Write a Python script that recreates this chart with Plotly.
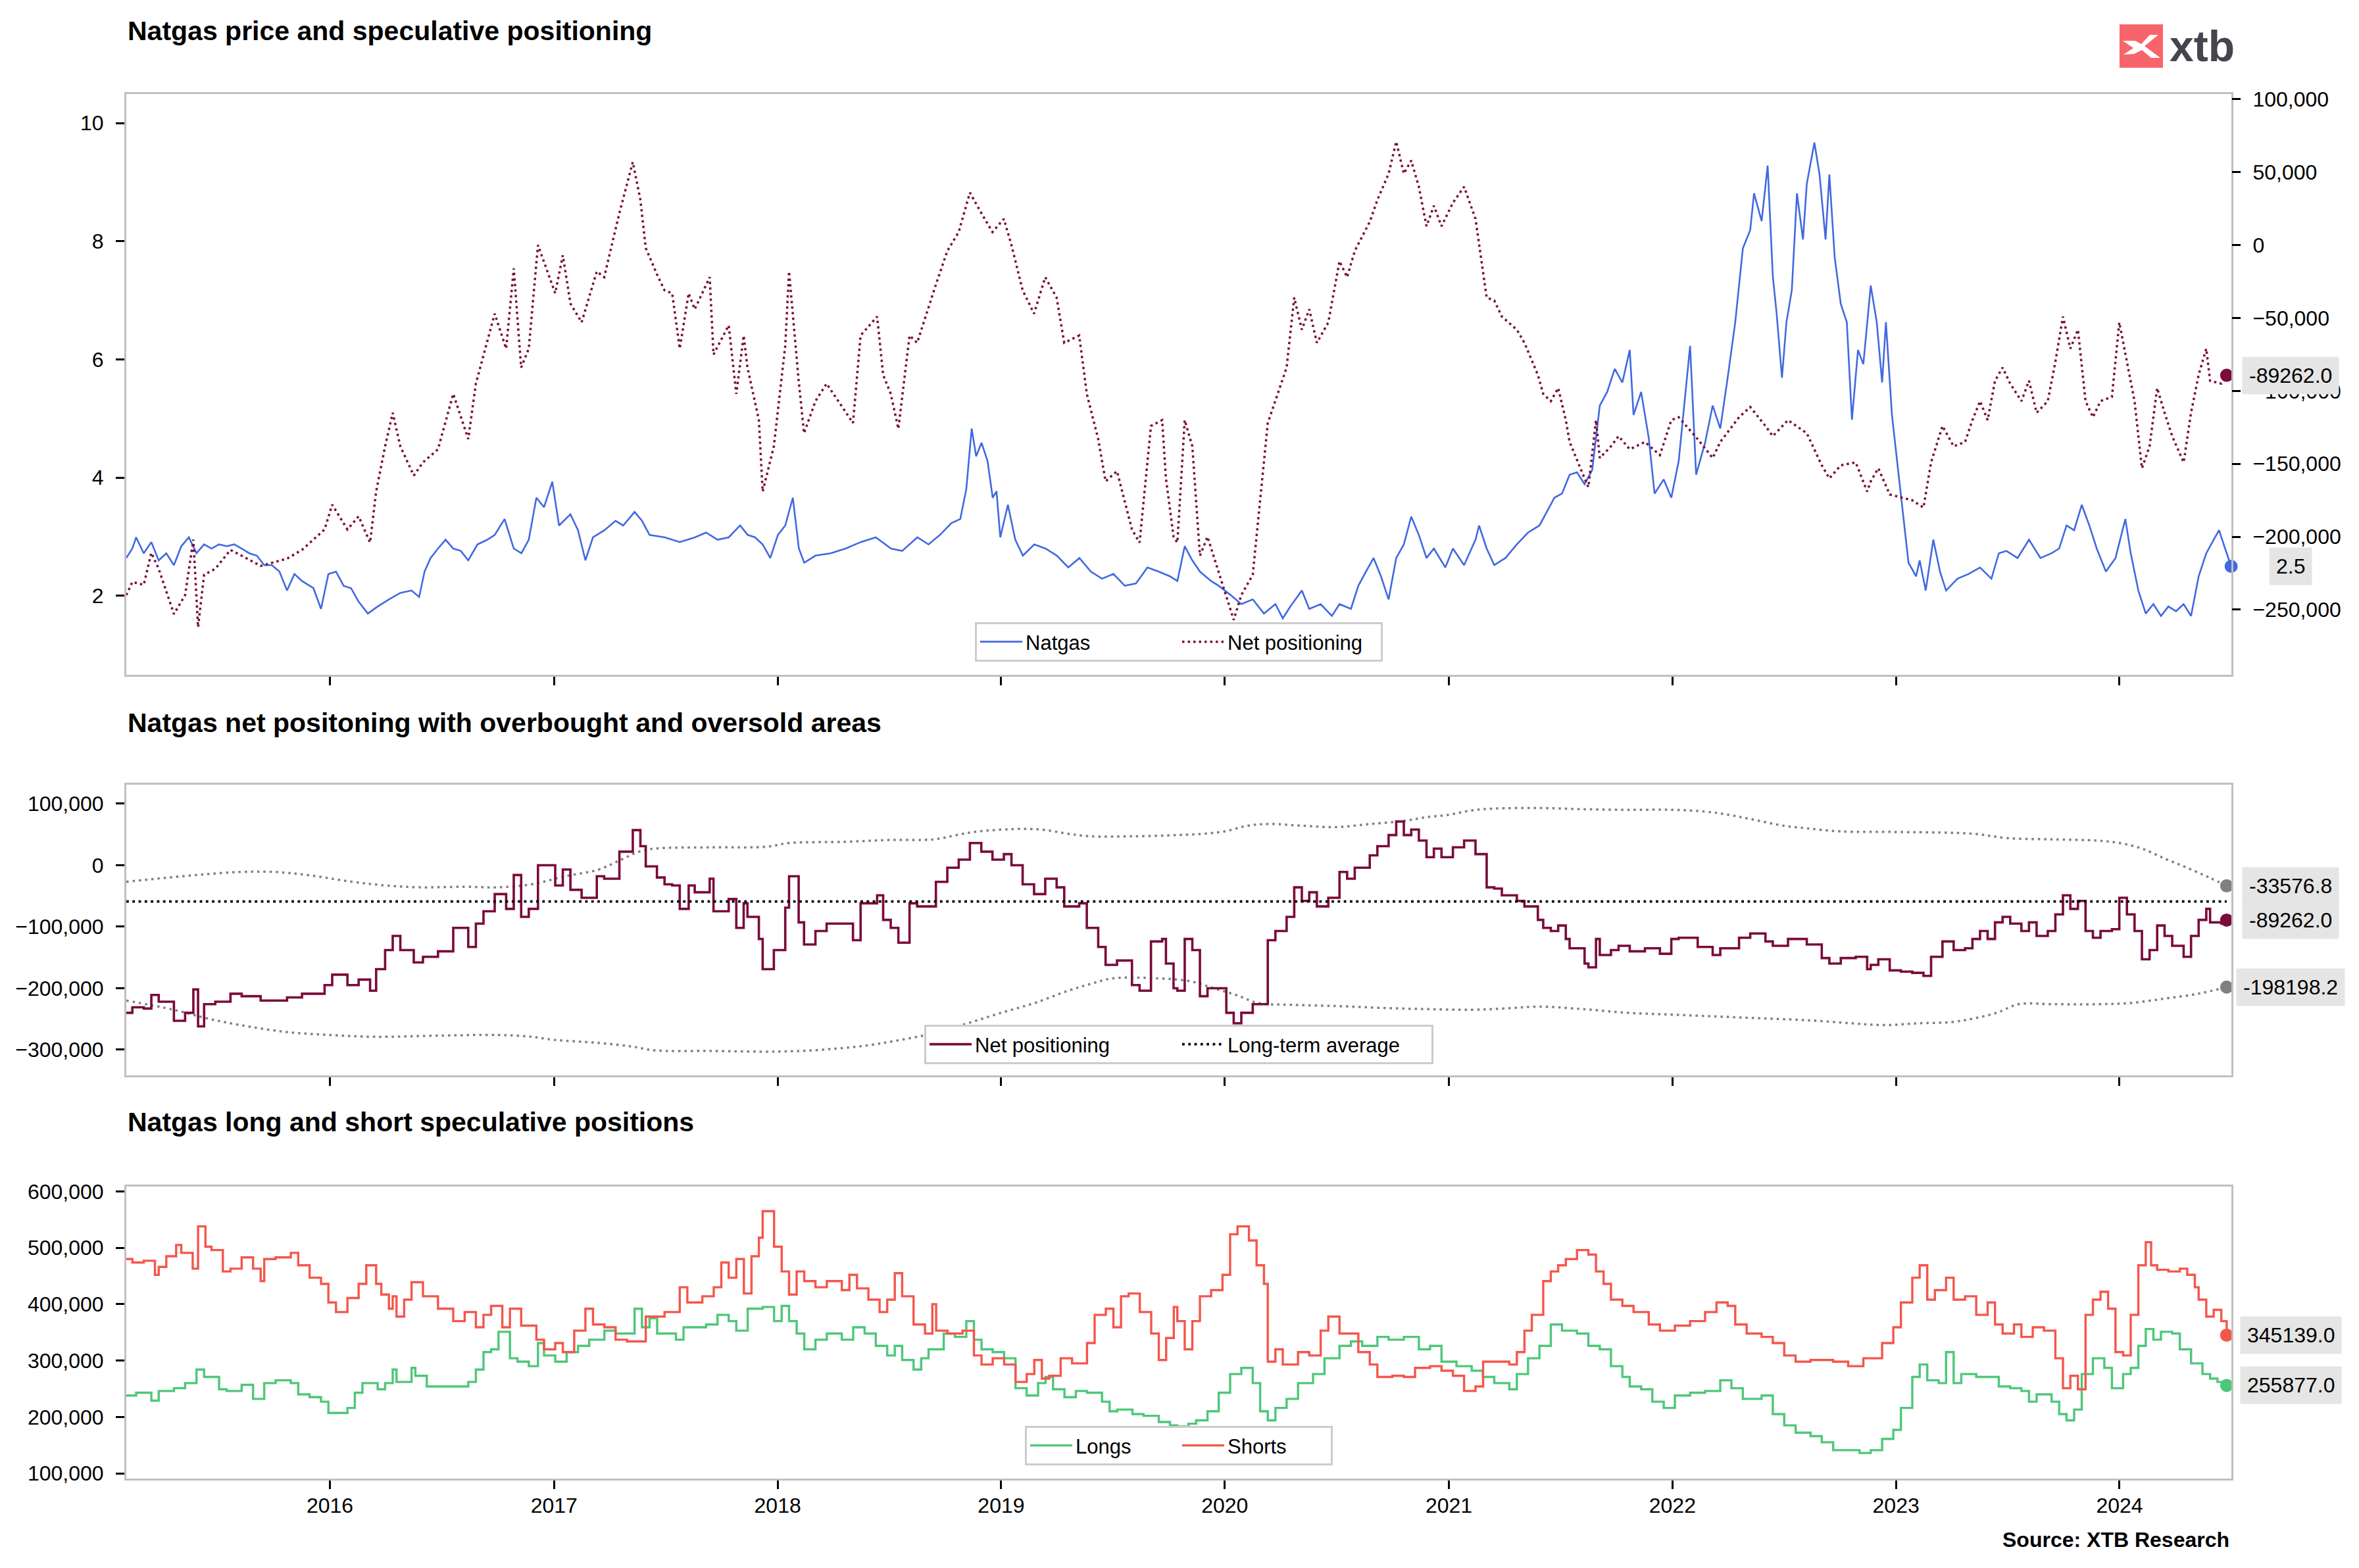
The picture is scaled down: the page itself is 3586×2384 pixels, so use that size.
import plotly.graph_objects as go
from datetime import datetime, timedelta

# ---------------- DATA ----------------
# time stamps are decimal years
GAS_T = [2015.089, 2015.116, 2015.133, 2015.167, 2015.201, 2015.234, 2015.268, 2015.302, 2015.335, 2015.369,
         2015.403, 2015.437, 2015.470, 2015.504, 2015.538, 2015.572, 2015.605, 2015.639, 2015.673, 2015.706,
         2015.740, 2015.774, 2015.808, 2015.841, 2015.875, 2015.926, 2015.960, 2015.993, 2016.027, 2016.061,
         2016.094, 2016.128, 2016.169, 2016.213, 2016.263, 2016.314, 2016.364, 2016.398, 2016.422, 2016.449,
         2016.482, 2016.516, 2016.550, 2016.584, 2016.617, 2016.658, 2016.702, 2016.735, 2016.779, 2016.820,
         2016.854, 2016.887, 2016.921, 2016.955, 2016.992, 2017.022, 2017.073, 2017.107, 2017.140, 2017.174,
         2017.225, 2017.275, 2017.309, 2017.360, 2017.393, 2017.427, 2017.495, 2017.562, 2017.630, 2017.680,
         2017.731, 2017.781, 2017.832, 2017.866, 2017.899, 2017.933, 2017.967, 2018.001, 2018.034, 2018.068,
         2018.095, 2018.119, 2018.169, 2018.237, 2018.304, 2018.372, 2018.439, 2018.507, 2018.557, 2018.625,
         2018.675, 2018.726, 2018.777, 2018.817, 2018.844, 2018.868, 2018.888, 2018.912, 2018.939, 2018.962,
         2018.979, 2018.996, 2019.030, 2019.063, 2019.097, 2019.148, 2019.198, 2019.249, 2019.300, 2019.350,
         2019.401, 2019.451, 2019.502, 2019.553, 2019.603, 2019.654, 2019.704, 2019.755, 2019.788, 2019.821,
         2019.855, 2019.889, 2019.939, 2019.973, 2020.024, 2020.074, 2020.125, 2020.175, 2020.226, 2020.259,
         2020.293, 2020.344, 2020.377, 2020.428, 2020.478, 2020.512, 2020.563, 2020.596, 2020.630, 2020.664,
         2020.697, 2020.731, 2020.765, 2020.799, 2020.832, 2020.866, 2020.900, 2020.933, 2020.984, 2021.018,
         2021.068, 2021.119, 2021.135, 2021.169, 2021.203, 2021.253, 2021.304, 2021.354, 2021.405, 2021.439,
         2021.472, 2021.506, 2021.540, 2021.573, 2021.607, 2021.641, 2021.675, 2021.708, 2021.742, 2021.776,
         2021.809, 2021.826, 2021.860, 2021.894, 2021.920, 2021.961, 2021.995, 2022.028, 2022.079, 2022.106,
         2022.146, 2022.180, 2022.214, 2022.247, 2022.281, 2022.315, 2022.348, 2022.365, 2022.399, 2022.426,
         2022.449, 2022.466, 2022.490, 2022.510, 2022.534, 2022.557, 2022.584, 2022.601, 2022.635, 2022.658,
         2022.685, 2022.702, 2022.726, 2022.753, 2022.780, 2022.803, 2022.830, 2022.854, 2022.887, 2022.914,
         2022.938, 2022.955, 2022.982, 2023.005, 2023.029, 2023.056, 2023.090, 2023.106, 2023.133, 2023.167,
         2023.197, 2023.224, 2023.275, 2023.325, 2023.376, 2023.427, 2023.460, 2023.494, 2023.544, 2023.595,
         2023.646, 2023.696, 2023.730, 2023.763, 2023.797, 2023.831, 2023.865, 2023.898, 2023.939, 2023.982,
         2024.026, 2024.050, 2024.084, 2024.117, 2024.151, 2024.185, 2024.218, 2024.252, 2024.286, 2024.319,
         2024.353, 2024.387, 2024.420, 2024.444, 2024.471, 2024.498]
GAS_V = [2.64, 2.80, 2.99, 2.72, 2.91, 2.60, 2.72, 2.52, 2.84, 2.99,
         2.72, 2.87, 2.80, 2.87, 2.84, 2.87, 2.80, 2.72, 2.68, 2.52,
         2.52, 2.41, 2.09, 2.37, 2.25, 2.13, 1.78, 2.37, 2.41, 2.17,
         2.13, 1.90, 1.70, 1.82, 1.94, 2.05, 2.09, 1.98, 2.41, 2.64,
         2.80, 2.95, 2.80, 2.76, 2.60, 2.87, 2.95, 3.03, 3.30, 2.80,
         2.72, 2.95, 3.66, 3.50, 3.93, 3.19, 3.38, 3.11, 2.60, 2.99,
         3.11, 3.27, 3.19, 3.42, 3.27, 3.03, 2.99, 2.91, 2.99, 3.07,
         2.95, 2.99, 3.19, 3.03, 2.99, 2.87, 2.64, 3.03, 3.19, 3.66,
         2.80, 2.56, 2.68, 2.72, 2.80, 2.91, 2.99, 2.80, 2.76, 2.99,
         2.87, 3.03, 3.23, 3.30, 3.81, 4.83, 4.36, 4.59, 4.28, 3.66,
         3.77, 2.99, 3.54, 2.95, 2.68, 2.87, 2.80, 2.68, 2.48, 2.64,
         2.41, 2.29, 2.37, 2.17, 2.21, 2.48, 2.41, 2.33, 2.25, 2.84,
         2.60, 2.41, 2.25, 2.17, 2.02, 1.86, 1.94, 1.70, 1.86, 1.62,
         1.82, 2.09, 1.78, 1.86, 1.66, 1.86, 1.78, 2.17, 2.41, 2.64,
         2.33, 1.94, 2.64, 2.87, 3.34, 3.03, 2.64, 2.80, 2.48, 2.80,
         2.52, 2.95, 3.19, 2.80, 2.52, 2.64, 2.87, 3.07, 3.19, 3.42,
         3.66, 3.73, 4.05, 4.09, 3.89, 4.13, 5.22, 5.45, 5.84, 5.61,
         6.16, 5.06, 5.45, 4.67, 3.73, 3.97, 3.66, 4.28, 6.23, 4.05,
         4.59, 5.22, 4.83, 5.69, 6.63, 7.88, 8.19, 8.81, 8.34, 9.28,
         7.41, 6.78, 5.69, 6.63, 7.17, 8.81, 8.03, 8.97, 9.67, 9.13,
         8.03, 9.13, 7.72, 6.94, 6.63, 4.98, 6.16, 5.92, 7.25, 6.63,
         5.61, 6.63, 5.06, 4.28, 3.50, 2.56, 2.33, 2.60, 2.09, 2.95,
         2.41, 2.09, 2.29, 2.37, 2.48, 2.29, 2.72, 2.76, 2.64, 2.95,
         2.64, 2.72, 2.80, 3.19, 3.11, 3.54, 3.19, 2.80, 2.41, 2.64,
         3.30, 2.72, 2.09, 1.70, 1.86, 1.66, 1.82, 1.74, 1.86, 1.66,
         2.33, 2.72, 2.95, 3.11, 2.80, 2.50]

# Net speculative positioning (contracts, thousands)
NET_T = [2015.089, 2015.116, 2015.167, 2015.201, 2015.234, 2015.302, 2015.352, 2015.389, 2015.410, 2015.437,
         2015.487, 2015.555, 2015.605, 2015.690, 2015.808, 2015.875, 2015.976, 2016.010, 2016.078, 2016.128,
         2016.179, 2016.206, 2016.246, 2016.280, 2016.314, 2016.374, 2016.415, 2016.482, 2016.550, 2016.617,
         2016.651, 2016.685, 2016.735, 2016.786, 2016.820, 2016.853, 2016.887, 2016.928, 2017.005, 2017.039,
         2017.073, 2017.123, 2017.191, 2017.224, 2017.292, 2017.352, 2017.386, 2017.410, 2017.460, 2017.494,
         2017.528, 2017.562, 2017.602, 2017.629, 2017.696, 2017.713, 2017.781, 2017.815, 2017.848, 2017.865,
         2017.916, 2017.933, 2017.983, 2018.034, 2018.051, 2018.094, 2018.118, 2018.169, 2018.219, 2018.337,
         2018.371, 2018.445, 2018.472, 2018.506, 2018.540, 2018.590, 2018.624, 2018.708, 2018.759, 2018.810,
         2018.860, 2018.911, 2018.961, 2019.012, 2019.046, 2019.096, 2019.147, 2019.197, 2019.248, 2019.282,
         2019.349, 2019.383, 2019.434, 2019.467, 2019.518, 2019.585, 2019.619, 2019.670, 2019.720, 2019.737,
         2019.771, 2019.788, 2019.821, 2019.855, 2019.889, 2019.923, 2020.007, 2020.040, 2020.074, 2020.125,
         2020.192, 2020.226, 2020.276, 2020.310, 2020.344, 2020.377, 2020.411, 2020.462, 2020.512, 2020.546,
         2020.580, 2020.647, 2020.681, 2020.731, 2020.765, 2020.799, 2020.832, 2020.866, 2020.900, 2020.933,
         2020.967, 2021.018, 2021.068, 2021.119, 2021.169, 2021.203, 2021.237, 2021.304, 2021.338, 2021.398,
         2021.422, 2021.456, 2021.489, 2021.523, 2021.540, 2021.607, 2021.624, 2021.658, 2021.675, 2021.725,
         2021.759, 2021.809, 2021.877, 2021.944, 2021.995, 2022.028, 2022.113, 2022.180, 2022.214, 2022.298,
         2022.348, 2022.416, 2022.449, 2022.517, 2022.601, 2022.668, 2022.702, 2022.753, 2022.820, 2022.871,
         2022.887, 2022.921, 2022.972, 2023.022, 2023.073, 2023.123, 2023.157, 2023.208, 2023.258, 2023.309,
         2023.342, 2023.376, 2023.410, 2023.443, 2023.477, 2023.511, 2023.561, 2023.595, 2023.629, 2023.679,
         2023.713, 2023.747, 2023.780, 2023.814, 2023.848, 2023.881, 2023.915, 2023.966, 2023.999, 2024.033,
         2024.067, 2024.100, 2024.134, 2024.168, 2024.201, 2024.235, 2024.286, 2024.319, 2024.353, 2024.387,
         2024.404, 2024.454, 2024.478]
NET_K = [-240, -231, -233, -211, -222, -253, -240, -202, -262, -226,
         -222, -209, -213, -220, -215, -209, -195, -178, -195, -186,
         -204, -169, -138, -115, -138, -158, -149, -140, -102, -133,
         -95, -75, -47, -71, -16, -84, -71, 0, -33, -7,
         -40, -53, -18, -22, 22, 57, 31, -2, -20, -31,
         -33, -71, -33, -44, -22, -75, -55, -102, -62, -84,
         -120, -169, -138, -69, -18, -93, -129, -107, -95, -122,
         -62, -49, -89, -102, -126, -62, -67, -27, -4, 9,
         36, 22, 9, 18, 0, -31, -47, -22, -36, -67,
         -62, -102, -133, -162, -155, -195, -204, -124, -120, -160,
         -200, -204, -120, -138, -213, -200, -240, -257, -240, -226,
         -122, -107, -84, -36, -58, -44, -67, -53, -11, -22,
         -4, 16, 31, 49, 71, 49, 58, 40, 13, 27,
         13, 29, 40, 18, -36, -38, -49, -58, -67, -89,
         -102, -107, -98, -120, -135, -160, -166, -120, -146, -138,
         -131, -140, -135, -144, -120, -118, -133, -146, -135, -118,
         -111, -124, -131, -120, -129, -151, -160, -151, -149, -169,
         -162, -153, -171, -173, -175, -180, -149, -124, -138, -135,
         -120, -107, -120, -93, -84, -95, -107, -93, -115, -107,
         -80, -49, -71, -58, -107, -118, -107, -104, -53, -80,
         -107, -153, -138, -98, -115, -131, -149, -115, -89, -71,
         -93, -95, -89.262]

# Overbought (upper) and oversold (lower) band, thousands
UP_T = [2015.089, 2015.4, 2015.6, 2015.75, 2015.9, 2016.1, 2016.25, 2016.4, 2016.6, 2016.75,
        2016.9, 2017.05, 2017.2, 2017.3, 2017.38, 2017.45, 2017.7, 2017.95, 2018.05, 2018.3,
        2018.5, 2018.7, 2018.8, 2018.9, 2019.1, 2019.2, 2019.3, 2019.4, 2019.6, 2019.79,
        2019.9, 2020.0, 2020.1, 2020.2, 2020.35, 2020.5, 2020.65, 2020.8, 2020.9, 2021.0,
        2021.1, 2021.2, 2021.4, 2021.6, 2021.8, 2022.0, 2022.15, 2022.25, 2022.35, 2022.5,
        2022.6, 2022.75, 2023.0, 2023.2, 2023.35, 2023.5, 2023.7, 2023.9, 2024.0, 2024.1,
        2024.2, 2024.3, 2024.4, 2024.478]
UP_K = [-27, -16, -11, -11, -16, -27, -33, -36, -35, -36,
        -31, -18, -7, 9, 22, 27, 29, 30, 36, 38,
        41, 42, 49, 55, 59, 57, 51, 47, 47, 49,
        51, 55, 64, 67, 64, 62, 67, 72, 78, 82,
        89, 92, 93, 91, 90, 90, 87, 82, 75, 64,
        60, 55, 54, 53, 51, 44, 42, 40, 36, 27,
        11, -4, -20, -33.5768]
LO_T = [2015.089, 2015.3, 2015.45, 2015.6, 2015.8, 2016.0, 2016.2, 2016.5, 2016.75, 2016.9,
        2017.0, 2017.2, 2017.35, 2017.45, 2017.7, 2018.0, 2018.2, 2018.4, 2018.55, 2018.7,
        2018.85, 2019.0, 2019.15, 2019.3, 2019.4, 2019.5, 2019.7, 2019.85, 2019.95, 2020.05,
        2020.15, 2020.3, 2020.5, 2020.7, 2020.9, 2021.1, 2021.25, 2021.4, 2021.6, 2021.8,
        2022.0, 2022.2, 2022.4, 2022.6, 2022.8, 2022.95, 2023.1, 2023.25, 2023.35, 2023.45,
        2023.55, 2023.7, 2023.9, 2024.05, 2024.2, 2024.35, 2024.478]
LO_K = [-220, -235, -249, -260, -271, -276, -279, -277, -276, -279,
        -284, -289, -295, -301, -302, -303, -300, -293, -284, -273,
        -257, -240, -224, -204, -193, -184, -184, -189, -200, -211,
        -224, -227, -229, -232, -234, -235, -233, -230, -234, -240,
        -243, -246, -249, -252, -257, -260, -257, -255, -249, -240,
        -226, -226, -226, -224, -217, -209, -198.1982]
LT_AVG_K = -59

# Long and short speculative positions, thousands
LONG_T = [2015.089, 2015.133, 2015.201, 2015.234, 2015.302, 2015.352, 2015.403, 2015.437, 2015.504, 2015.538,
          2015.605, 2015.656, 2015.706, 2015.757, 2015.825, 2015.858, 2015.909, 2015.960, 2015.993, 2016.078,
          2016.111, 2016.145, 2016.213, 2016.246, 2016.280, 2016.297, 2016.364, 2016.381, 2016.432, 2016.617,
          2016.651, 2016.685, 2016.719, 2016.752, 2016.803, 2016.837, 2016.887, 2016.928, 2016.955, 2017.005,
          2017.056, 2017.107, 2017.157, 2017.225, 2017.275, 2017.360, 2017.393, 2017.427, 2017.461, 2017.545,
          2017.579, 2017.680, 2017.731, 2017.781, 2017.815, 2017.866, 2017.933, 2017.984, 2018.018, 2018.051,
          2018.085, 2018.119, 2018.169, 2018.220, 2018.287, 2018.338, 2018.389, 2018.439, 2018.490, 2018.524,
          2018.557, 2018.608, 2018.642, 2018.675, 2018.743, 2018.793, 2018.844, 2018.878, 2018.912, 2018.962,
          2019.013, 2019.064, 2019.114, 2019.165, 2019.198, 2019.232, 2019.283, 2019.334, 2019.384, 2019.451,
          2019.485, 2019.519, 2019.587, 2019.637, 2019.705, 2019.755, 2019.788, 2019.838, 2019.872, 2019.923,
          2019.973, 2020.024, 2020.074, 2020.125, 2020.158, 2020.192, 2020.226, 2020.276, 2020.327, 2020.394,
          2020.445, 2020.512, 2020.563, 2020.613, 2020.681, 2020.731, 2020.799, 2020.866, 2020.916, 2020.967,
          2021.034, 2021.102, 2021.152, 2021.203, 2021.270, 2021.304, 2021.354, 2021.405, 2021.456, 2021.506,
          2021.573, 2021.624, 2021.675, 2021.725, 2021.776, 2021.809, 2021.860, 2021.910, 2021.961, 2022.011,
          2022.079, 2022.146, 2022.214, 2022.264, 2022.315, 2022.399, 2022.449, 2022.500, 2022.551, 2022.618,
          2022.668, 2022.719, 2022.837, 2022.887, 2022.938, 2022.988, 2023.022, 2023.073, 2023.106, 2023.140,
          2023.191, 2023.224, 2023.258, 2023.292, 2023.359, 2023.460, 2023.511, 2023.561, 2023.595, 2023.629,
          2023.696, 2023.730, 2023.763, 2023.797, 2023.831, 2023.881, 2023.932, 2023.966, 2024.016, 2024.050,
          2024.084, 2024.117, 2024.151, 2024.185, 2024.235, 2024.269, 2024.319, 2024.370, 2024.404, 2024.437,
          2024.478]
LONG_K = [238, 243, 229, 246, 251, 260, 284, 271, 249, 246,
          257, 232, 260, 265, 260, 240, 235, 227, 207, 216,
          243, 260, 249, 260, 284, 262, 287, 273, 254, 262,
          284, 315, 320, 351, 304, 298, 290, 331, 309, 298,
          315, 326, 337, 353, 348, 392, 359, 375, 348, 337,
          359, 364, 381, 370, 353, 392, 395, 370, 397, 370,
          348, 320, 337, 348, 337, 359, 348, 326, 309, 326,
          301, 284, 304, 320, 348, 342, 370, 337, 320, 315,
          304, 251, 238, 260, 271, 249, 235, 246, 243, 227,
          210, 213, 205, 202, 191, 185, 183, 188, 194, 210,
          243, 276, 287, 260, 210, 194, 216, 232, 260, 276,
          304, 326, 334, 326, 342, 337, 342, 320, 326, 298,
          290, 282, 271, 260, 249, 276, 304, 326, 364, 353,
          348, 326, 320, 290, 271, 254, 249, 227, 216, 238,
          243, 246, 265, 251, 232, 238, 205, 185, 172, 166,
          155, 141, 136, 141, 161, 177, 216, 271, 293, 265,
          260, 315, 260, 276, 271, 254, 251, 246, 227, 240,
          227, 205, 194, 213, 276, 304, 287, 251, 276, 287,
          326, 356, 337, 351, 348, 320, 295, 276, 268, 262,
          255.877]
SHORT_T = [2015.089, 2015.116, 2015.167, 2015.217, 2015.234, 2015.268, 2015.312, 2015.335, 2015.386, 2015.410,
           2015.443, 2015.470, 2015.521, 2015.555, 2015.605, 2015.656, 2015.690, 2015.706, 2015.757, 2015.825,
           2015.858, 2015.909, 2015.960, 2015.993, 2016.027, 2016.078, 2016.128, 2016.162, 2016.206, 2016.229,
           2016.263, 2016.280, 2016.297, 2016.331, 2016.364, 2016.415, 2016.482, 2016.550, 2016.601, 2016.651,
           2016.685, 2016.719, 2016.769, 2016.803, 2016.853, 2016.921, 2016.955, 2017.005, 2017.039, 2017.090,
           2017.140, 2017.174, 2017.225, 2017.275, 2017.326, 2017.410, 2017.494, 2017.562, 2017.596, 2017.663,
           2017.714, 2017.748, 2017.781, 2017.815, 2017.849, 2017.883, 2017.916, 2017.933, 2017.984, 2018.018,
           2018.051, 2018.085, 2018.119, 2018.169, 2018.220, 2018.287, 2018.321, 2018.355, 2018.406, 2018.456,
           2018.490, 2018.524, 2018.557, 2018.608, 2018.659, 2018.692, 2018.709, 2018.760, 2018.827, 2018.878,
           2018.912, 2018.962, 2019.013, 2019.064, 2019.114, 2019.148, 2019.182, 2019.215, 2019.266, 2019.317,
           2019.384, 2019.418, 2019.468, 2019.502, 2019.536, 2019.570, 2019.620, 2019.671, 2019.705, 2019.738,
           2019.772, 2019.788, 2019.821, 2019.855, 2019.889, 2019.939, 2019.990, 2020.024, 2020.057, 2020.108,
           2020.142, 2020.175, 2020.192, 2020.226, 2020.259, 2020.327, 2020.377, 2020.428, 2020.462, 2020.512,
           2020.596, 2020.647, 2020.681, 2020.748, 2020.799, 2020.849, 2020.916, 2020.967, 2021.018, 2021.068,
           2021.119, 2021.153, 2021.270, 2021.304, 2021.338, 2021.371, 2021.422, 2021.456, 2021.489, 2021.523,
           2021.573, 2021.624, 2021.658, 2021.692, 2021.725, 2021.776, 2021.826, 2021.894, 2021.944, 2022.011,
           2022.079, 2022.146, 2022.197, 2022.247, 2022.281, 2022.332, 2022.399, 2022.449, 2022.500, 2022.551,
           2022.618, 2022.719, 2022.786, 2022.854, 2022.938, 2022.988, 2023.022, 2023.073, 2023.106, 2023.140,
           2023.174, 2023.224, 2023.258, 2023.309, 2023.359, 2023.410, 2023.443, 2023.477, 2023.528, 2023.561,
           2023.612, 2023.662, 2023.713, 2023.747, 2023.780, 2023.814, 2023.848, 2023.881, 2023.915, 2023.949,
           2023.982, 2024.016, 2024.050, 2024.084, 2024.117, 2024.141, 2024.168, 2024.218, 2024.269, 2024.302,
           2024.336, 2024.353, 2024.387, 2024.420, 2024.454, 2024.478]
SHORT_K = [480, 474, 477, 452, 466, 485, 505, 491, 463, 538,
           502, 496, 458, 463, 483, 463, 441, 480, 483, 491,
           469, 447, 436, 403, 386, 411, 436, 469, 436, 417,
           392, 414, 378, 408, 439, 414, 392, 370, 386, 359,
           381, 397, 359, 392, 362, 337, 320, 331, 315, 353,
           392, 364, 359, 337, 334, 378, 386, 430, 403, 414,
           430, 474, 447, 480, 419, 485, 518, 565, 502, 458,
           417, 458, 441, 430, 441, 425, 452, 428, 408, 386,
           408, 455, 414, 364, 348, 400, 353, 348, 353, 309,
           293, 304, 293, 262, 276, 301, 268, 273, 304, 295,
           331, 381, 392, 359, 414, 419, 386, 348, 301, 340,
           395, 370, 320, 370, 414, 425, 452, 524, 538, 513,
           469, 436, 298, 320, 293, 315, 309, 353, 378, 348,
           315, 293, 271, 273, 271, 287, 290, 282, 273, 246,
           254, 298, 293, 315, 353, 381, 441, 458, 469, 480,
           496, 488, 458, 436, 408, 397, 386, 364, 353, 362,
           370, 386, 403, 397, 364, 348, 342, 331, 309, 298,
           301, 298, 290, 304, 331, 359, 403, 447, 469, 408,
           425, 447, 408, 414, 381, 403, 364, 348, 364, 342,
           359, 353, 304, 251, 273, 249, 381, 408, 422, 392,
           315, 309, 381, 469, 510, 469, 461, 458, 463, 452,
           430, 408, 378, 390, 370, 345.139]

YEARS = [2016, 2017, 2018, 2019, 2020, 2021, 2022, 2023, 2024]
X_START, X_END = 2015.089, 2024.499

# ---------------- helpers ----------------
def to_date(y):
    yr = int(y)
    start = datetime(yr, 1, 1)
    days = (datetime(yr + 1, 1, 1) - start).days
    return start + timedelta(days=(y - yr) * days)

def dates(ts):
    return [to_date(t) for t in ts]

def k(vals):
    return [v * 1000 for v in vals]

# page is 3586 x 2384; the html body adds an 8 px margin around the figure
PAGE_W, PAGE_H, OFF = 3586, 2384, 8
FW, FH = PAGE_W - 2 * OFF, PAGE_H - 2 * OFF
PLOT_L, PLOT_R, PLOT_T, PLOT_B = 192, 3392, 143, 2248      # page pixels of the plot block
ML, MT = PLOT_L - OFF, PLOT_T - OFF
MR, MB = FW - (PLOT_R - OFF), FH - (PLOT_B - OFF)
PW, PH = PLOT_R - PLOT_L, PLOT_B - PLOT_T

def px(x):   # page x pixel -> paper
    return (x - PLOT_L) / PW

def py(y):   # page y pixel -> paper
    return (PLOT_B - y) / PH

BLUE = '#4169e1'
MAROON = '#7a0b3a'
GREEN = '#4ec77a'
RED = '#f5564b'
GRAY = '#808080'
FRAME = '#c0c0c0'
LABEL_BG = '#e5e5e5'
FONT = 'Liberation Sans, Arial, Helvetica, sans-serif'

gas_x = dates(GAS_T)
net_x = dates(NET_T)
net_y = k(NET_K)
up_x, up_y = dates(UP_T), k(UP_K)
lo_x, lo_y = dates(LO_T), k(LO_K)
long_x, long_y = dates(LONG_T), k(LONG_K)
short_x, short_y = dates(SHORT_T), k(SHORT_K)
xrange = [to_date(X_START), to_date(X_END)]
tickvals = [datetime(y, 1, 1) for y in YEARS]

fig = go.Figure()

# ---- top panel
fig.add_trace(go.Scatter(x=gas_x, y=GAS_V, mode='lines', name='Natgas',
                         line=dict(color=BLUE, width=2.6), xaxis='x', yaxis='y', legend='legend'))
fig.add_trace(go.Scatter(x=net_x, y=net_y, mode='lines', name='Net positioning',
                         line=dict(color=MAROON, width=3.5, dash='3.5px,5px'), xaxis='x', yaxis='y2',
                         legend='legend'))
fig.add_trace(go.Scatter(x=[gas_x[-1]], y=[GAS_V[-1]], mode='markers', showlegend=False, cliponaxis=False,
                         marker=dict(color=BLUE, size=20), xaxis='x', yaxis='y'))
fig.add_trace(go.Scatter(x=[net_x[-1]], y=[net_y[-1]], mode='markers', showlegend=False, cliponaxis=False,
                         marker=dict(color=MAROON, size=20), xaxis='x', yaxis='y2'))

# ---- middle panel
fig.add_trace(go.Scatter(x=up_x, y=up_y, mode='lines', showlegend=False,
                         line=dict(color=GRAY, width=3.5, dash='3.5px,6px', shape='spline'),
                         xaxis='x2', yaxis='y3'))
fig.add_trace(go.Scatter(x=lo_x, y=lo_y, mode='lines', showlegend=False,
                         line=dict(color=GRAY, width=3.5, dash='3.5px,6px', shape='spline'),
                         xaxis='x2', yaxis='y3'))
fig.add_trace(go.Scatter(x=net_x, y=net_y, mode='lines', name='Net positioning',
                         line=dict(color=MAROON, width=3.6, shape='hv'), xaxis='x2', yaxis='y3',
                         legend='legend2'))
fig.add_trace(go.Scatter(x=[net_x[0], net_x[-1]], y=[LT_AVG_K * 1000] * 2, mode='lines',
                         name='Long-term average', line=dict(color='black', width=3.8, dash='3.8px,5.5px'),
                         xaxis='x2', yaxis='y3', legend='legend2'))
for xs, ys, c in [(up_x, up_y, GRAY), (net_x, net_y, MAROON), (lo_x, lo_y, GRAY)]:
    fig.add_trace(go.Scatter(x=[xs[-1]], y=[ys[-1]], mode='markers', showlegend=False, cliponaxis=False,
                             marker=dict(color=c, size=20), xaxis='x2', yaxis='y3'))

# ---- bottom panel
fig.add_trace(go.Scatter(x=long_x, y=long_y, mode='lines', name='Longs',
                         line=dict(color=GREEN, width=3.4, shape='hv'), xaxis='x3', yaxis='y4',
                         legend='legend3'))
fig.add_trace(go.Scatter(x=short_x, y=short_y, mode='lines', name='Shorts',
                         line=dict(color=RED, width=3.4, shape='hv'), xaxis='x3', yaxis='y4',
                         legend='legend3'))
for xs, ys, c in [(short_x, short_y, RED), (long_x, long_y, GREEN)]:
    fig.add_trace(go.Scatter(x=[xs[-1]], y=[ys[-1]], mode='markers', showlegend=False, cliponaxis=False,
                             marker=dict(color=c, size=20), xaxis='x3', yaxis='y4'))

# ---------------- layout ----------------
tickfont = dict(family=FONT, size=32, color='black')
common_x = dict(type='date', range=xrange, tickvals=tickvals, ticktext=[str(y) for y in YEARS],
                showline=True, linecolor=FRAME, linewidth=3, mirror=True, ticks='outside',
                ticklen=13, tickwidth=3, tickcolor='black', showgrid=False, zeroline=False,
                tickfont=tickfont, ticklabelstandoff=-2)
common_y = dict(showline=True, linecolor=FRAME, linewidth=3, mirror=True, ticks='outside',
                ticklen=13, tickwidth=3, tickcolor='black', showgrid=False, zeroline=False,
                tickfont=tickfont, tickformat=',d', ticklabelstandoff=12)

top_dom = [py(1025.6), 1.0]
mid_dom = [py(1634.8), py(1193.3)]
bot_dom = [0.0, py(1803.8)]

legend_common = dict(orientation='h', xanchor='center', x=0.5, yanchor='bottom',
                     bgcolor='white', bordercolor='#cccccc', borderwidth=3, itemwidth=64,
                     entrywidthmode='pixels',
                     font=dict(family=FONT, size=31, color='black'))

fig.update_layout(
    width=FW, height=FH,
    margin=dict(l=ML, r=MR, t=MT, b=MB, pad=0),
    paper_bgcolor='white', plot_bgcolor='white',
    font=dict(family=FONT, size=32, color='black'),
    xaxis=dict(common_x, anchor='y', domain=[0, 1], showticklabels=False),
    yaxis=dict(common_y, domain=top_dom, range=[0.668, 10.49], tickvals=[2, 4, 6, 8, 10], tickformat='d'),
    yaxis2=dict(common_y, overlaying='y', side='right', anchor='x', range=[-294500, 103600],
                tickvals=[-250000, -200000, -150000, -100000, -50000, 0, 50000, 100000],
                showline=False, mirror=False),
    xaxis2=dict(common_x, anchor='y3', domain=[0, 1], showticklabels=False),
    yaxis3=dict(common_y, domain=mid_dom, anchor='x2', range=[-341500, 130600],
                tickvals=[-300000, -200000, -100000, 0, 100000]),
    xaxis3=dict(common_x, anchor='y4', domain=[0, 1]),
    yaxis4=dict(common_y, domain=bot_dom, anchor='x3', range=[90700, 608900],
                tickvals=[100000, 200000, 300000, 400000, 500000, 600000]),
    legend=dict(legend_common, y=py(1006), entrywidth=228),
    legend2=dict(legend_common, y=py(1618), entrywidth=305),
    legend3=dict(legend_common, y=py(2228), entrywidth=152),
    showlegend=True,
)

# ---------------- annotations ----------------
ann = []
titles = [("Natgas price and speculative positioning", 47),
          ("Natgas net positoning with overbought and oversold areas", 1099),
          ("Natgas long and short speculative positions", 1706)]
for txt, ycen in titles:
    ann.append(dict(text='<b>%s</b>' % txt, xref='paper', yref='paper', x=0, y=py(ycen),
                    xanchor='left', yanchor='middle', showarrow=False,
                    font=dict(family=FONT, size=41, color='black')))

LX = px(3482)
def label(v, yref, txt=None):
    return dict(text=txt if txt is not None else '%.1f' % v, xref='paper', yref=yref, x=LX, y=v,
                xanchor='center', yanchor='middle', showarrow=False, bgcolor=LABEL_BG,
                borderpad=10, font=dict(family=FONT, size=32, color='black'))

ann.append(label(net_y[-1], 'y2'))
ann.append(label(GAS_V[-1], 'y'))
ann.append(label(up_y[-1], 'y3'))
ann.append(label(net_y[-1], 'y3'))
ann.append(label(lo_y[-1], 'y3'))
ann.append(label(short_y[-1], 'y4'))
ann.append(label(long_y[-1], 'y4'))

ann.append(dict(text='<b>Source: XTB Research</b>', xref='paper', yref='paper', x=px(3391), y=py(2341),
                xanchor='right', yanchor='middle', showarrow=False,
                font=dict(family=FONT, size=32, color='black')))

# XTB logo
ann.append(dict(text='<b>xtb</b>', xref='paper', yref='paper', x=px(3296), y=py(70),
                xanchor='left', yanchor='middle', showarrow=False,
                font=dict(family=FONT, size=66, color='#45454d')))
fig.update_layout(annotations=ann)

shapes = [dict(type='rect', xref='paper', yref='paper', x0=px(3222), x1=px(3288), y0=py(103), y1=py(37),
               fillcolor='#f8646c', line=dict(width=0), layer='above')]
# white stylised mark inside the logo box (px offsets inside the box)
mark = [(59, 16), (38, 33), (62, 51), (48, 51), (34, 39), (22, 45), (6, 46), (21, 36), (5, 25),
        (24, 25), (33, 30), (46, 16)]
path = 'M ' + ' L '.join('%.5f,%.5f' % (px(3222 + a), py(37 + b)) for a, b in mark) + ' Z'
shapes.append(dict(type='path', xref='paper', yref='paper', path=path, fillcolor='white',
                   line=dict(width=0), layer='above'))
fig.update_layout(shapes=shapes)

fig.write_html("out.html")
